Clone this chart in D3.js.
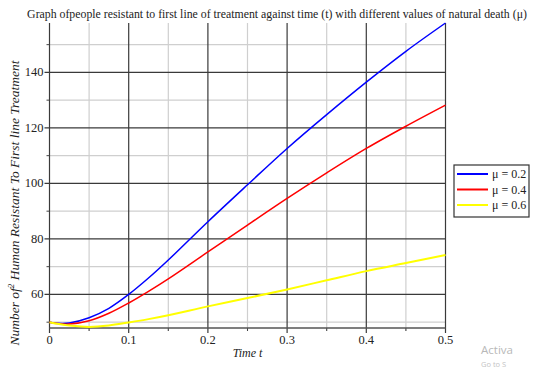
<!DOCTYPE html>
<html>
<head>
<meta charset="utf-8">
<script src="https://cdn.jsdelivr.net/npm/d3@7/dist/d3.min.js"></script>
<style>
  body { margin: 0; background: #fff; }
  svg text { font-family: "Liberation Serif", "Times New Roman", serif; fill: #222; }
</style>
</head>
<body>
<div id="chart"></div>
<script>
// time values (t)
var times = [0, 0.01, 0.025, 0.05, 0.075, 0.1, 0.125, 0.15, 0.2, 0.25, 0.3, 0.35, 0.4, 0.45, 0.5];
// number resistant for each mu
var mu02 = [50, 49.6, 49.7, 51.6, 55.0, 60, 65.9, 72.4, 86.2, 99.5, 112.6, 124.8, 136.5, 147.6, 157.8];
var mu04 = [50, 49.5, 49.3, 50.5, 53.2, 56.9, 61.1, 65.6, 75.3, 85, 94.6, 103.8, 112.6, 120.6, 128.2];
var mu06 = [50, 49.4, 48.8, 48.3, 48.8, 49.9, 51.1, 52.5, 55.7, 58.7, 61.8, 65.1, 68.4, 71.3, 74.2];
var seriesNames = ["\u03bc = 0.2", "\u03bc = 0.4", "\u03bc = 0.6"];
var seriesColors = ["#0000ff", "#ff0000", "#ffff00"];
var xTicks = [0, 0.1, 0.2, 0.3, 0.4, 0.5];
var yTicks = [60, 80, 100, 120, 140];

(function() {
  var width = 539, height = 369;
  var pLeft = 49.5, pRight = 445.5, pTop = 23, pBottom = 328;

  var svg = d3.select("#chart").append("svg")
    .attr("width", width)
    .attr("height", height);

  var x = d3.scaleLinear().domain([0, 0.5]).range([pLeft, pRight]);
  var y = d3.scaleLinear().domain([47.9, 157.8]).range([pBottom, pTop]);

  // minor grid
  var xMinor = [0.05, 0.15, 0.25, 0.35, 0.45];
  var yMinor = [50, 70, 90, 110, 130, 150];
  svg.selectAll(".vminor").data(xMinor).enter().append("line")
    .attr("x1", d => x(d)).attr("x2", d => x(d))
    .attr("y1", pTop).attr("y2", pBottom + 3)
    .attr("stroke", "#cfcfcf").attr("stroke-width", 1.2);
  svg.selectAll(".hminor").data(yMinor).enter().append("line")
    .attr("x1", pLeft).attr("x2", pRight)
    .attr("y1", d => y(d)).attr("y2", d => y(d))
    .attr("stroke", "#cfcfcf").attr("stroke-width", 1.2);

  // major grid
  svg.selectAll(".vmajor").data(xTicks).enter().append("line")
    .attr("x1", d => x(d)).attr("x2", d => x(d))
    .attr("y1", pTop).attr("y2", pBottom + 5)
    .attr("stroke", "#3a3a3a").attr("stroke-width", 1.2);
  svg.selectAll(".hmajor").data(yTicks).enter().append("line")
    .attr("x1", pLeft - 5).attr("x2", pRight)
    .attr("y1", d => y(d)).attr("y2", d => y(d))
    .attr("stroke", "#3a3a3a").attr("stroke-width", 1.2);

  // minor tick marks on the axes
  svg.selectAll(".xmt").data(xMinor).enter().append("line")
    .attr("x1", d => x(d)).attr("x2", d => x(d))
    .attr("y1", pBottom).attr("y2", pBottom + 3)
    .attr("stroke", "#444");
  svg.selectAll(".ymt").data(yMinor).enter().append("line")
    .attr("x1", pLeft - 3).attr("x2", pLeft)
    .attr("y1", d => y(d)).attr("y2", d => y(d))
    .attr("stroke", "#444");

  // bottom axis line
  svg.append("line")
    .attr("x1", pLeft).attr("x2", pRight)
    .attr("y1", pBottom).attr("y2", pBottom)
    .attr("stroke", "#555").attr("stroke-width", 1.5);

  // tick labels
  svg.selectAll(".xl").data(xTicks).enter().append("text")
    .attr("x", d => x(d)).attr("y", pBottom + 16)
    .attr("text-anchor", "middle").attr("font-size", 12.5)
    .text(d => d === 0 ? "0" : d3.format(".1f")(d));
  svg.selectAll(".yl").data(yTicks).enter().append("text")
    .attr("x", pLeft - 6).attr("y", d => y(d) + 4)
    .attr("text-anchor", "end").attr("font-size", 12.5)
    .text(d => d);

  // curves
  var line = d3.line()
    .curve(d3.curveCatmullRom)
    .x(d => x(d[0]))
    .y(d => y(d[1]));
  [mu02, mu04, mu06].forEach(function(vals, i) {
    svg.append("path")
      .attr("d", line(times.map((t, j) => [t, vals[j]])))
      .attr("fill", "none")
      .attr("stroke", seriesColors[i])
      .attr("stroke-width", i === 2 ? 2 : 1.5);
  });

  // title and axis titles
  svg.append("text")
    .attr("x", 277).attr("y", 18)
    .attr("text-anchor", "middle").attr("font-size", 11.8)
    .text("Graph ofpeople resistant to first line of treatment against time (t) with different values of natural death (\u03bc)");

  svg.append("text")
    .attr("x", x(0.25)).attr("y", 357)
    .attr("text-anchor", "middle").attr("font-size", 12)
    .attr("font-style", "italic")
    .text("Time t");

  var yl = svg.append("text")
    .attr("transform", "translate(19,203) rotate(-90)")
    .attr("text-anchor", "middle").attr("font-size", 13.5)
    .attr("font-style", "italic");
  yl.append("tspan").text("Number of");
  yl.append("tspan").attr("dy", -5).attr("font-size", 9).text("2");
  yl.append("tspan").attr("dy", 5).text(" Human Resistant To First line Treatment");

  // legend
  var lg = svg.append("g").attr("transform", "translate(454,165)");
  lg.append("rect").attr("width", 75).attr("height", 52)
    .attr("fill", "#fff").attr("stroke", "#333").attr("stroke-width", 1.2);
  seriesNames.forEach(function(name, i) {
    var yy = 9 + i * 15.5;
    lg.append("line").attr("x1", 3).attr("x2", 34)
      .attr("y1", yy).attr("y2", yy)
      .attr("stroke", seriesColors[i]).attr("stroke-width", 2);
    lg.append("text").attr("x", 38).attr("y", yy + 4)
      .attr("font-size", 12).text(name);
  });

  // windows watermark
  svg.append("text").attr("x", 481).attr("y", 354)
    .style("font-family", "'Open Sans', sans-serif").style("fill", "#b8b8b8")
    .attr("font-size", 11.5).text("Activa");
  svg.append("text").attr("x", 481).attr("y", 367)
    .style("font-family", "'Open Sans', sans-serif").style("fill", "#c4c4c4")
    .attr("font-size", 7.5).text("Go to S");
})();
</script>
</body>
</html>
